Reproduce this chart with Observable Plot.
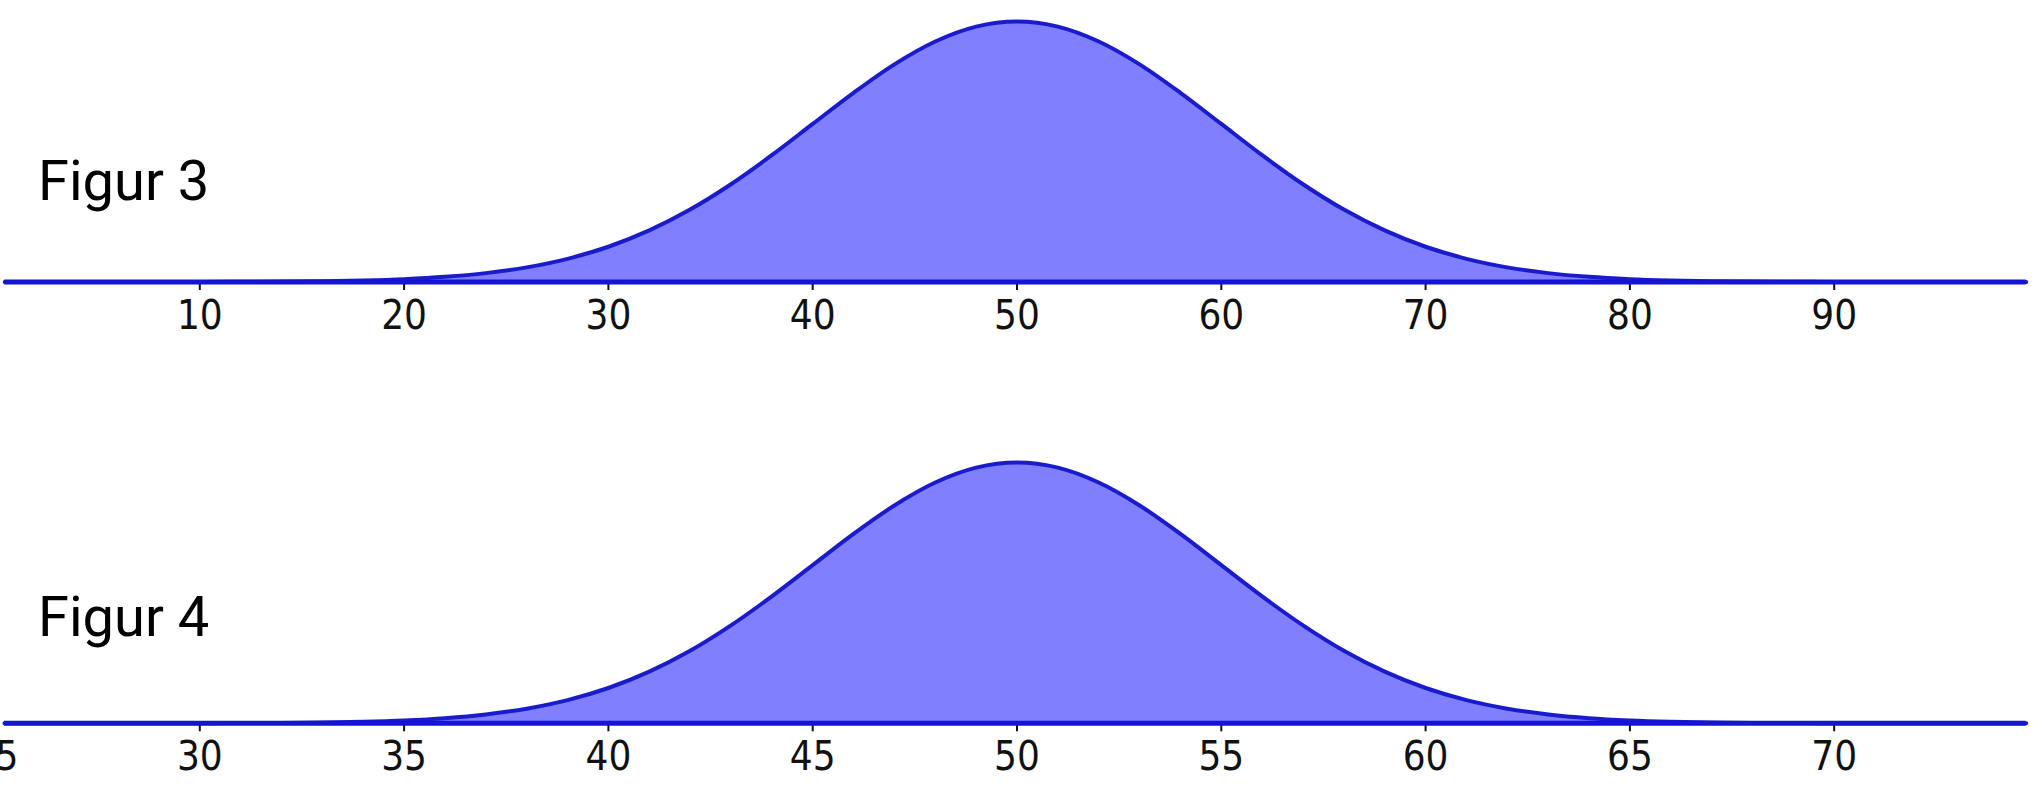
<!DOCTYPE html>
<html>
<head>
<meta charset="utf-8">
<script src="https://cdn.jsdelivr.net/npm/d3@7"></script>
<script src="https://cdn.jsdelivr.net/npm/@observablehq/plot@0.6"></script>
<style>
  html, body { margin: 0; padding: 0; background: #fff; overflow: hidden; }
  #chart svg { display: block; }
</style>
</head>
<body>
<div id="chart"></div>
<script>
// Figure labels
const figureLabels = ["Figur 3", "Figur 4"];

// Figure 3 (top): x positions and density values
const xTop = [0.45, 2, 4, 6, 8, 10, 12, 14, 16, 18, 20, 22, 24, 26, 28, 30, 32, 34, 36, 38, 40, 42, 44, 46, 48,
  50, 52, 54, 56, 58, 60, 62, 64, 66, 68, 70, 72, 74, 76, 78, 80, 82, 84, 86, 88, 90, 92, 94, 96, 98, 99.4];
const yTop = [0, 0, 0, 0, 0.00001, 0.00001, 0.00003, 0.00006, 0.00012, 0.00024, 0.00044, 0.00079, 0.00136,
  0.00224, 0.00355, 0.0054, 0.0079, 0.01109, 0.01497, 0.01942, 0.0242, 0.02897, 0.03333, 0.03683, 0.03911,
  0.03989,
  0.03911, 0.03683, 0.03333, 0.02897, 0.0242, 0.01942, 0.01497, 0.01109, 0.0079, 0.0054, 0.00355, 0.00224,
  0.00136, 0.00079, 0.00044, 0.00024, 0.00012, 0.00006, 0.00003, 0.00001, 0.00001, 0, 0, 0, 0];
const ticksTop = [10, 20, 30, 40, 50, 60, 70, 80, 90];

// Figure 4 (bottom)
const xBottom = [25.22, 26, 27, 28, 29, 30, 31, 32, 33, 34, 35, 36, 37, 38, 39, 40, 41, 42, 43, 44, 45, 46, 47, 48, 49,
  50, 51, 52, 53, 54, 55, 56, 57, 58, 59, 60, 61, 62, 63, 64, 65, 66, 67, 68, 69, 70, 71, 72, 73, 74, 74.7];
const yBottom = [0, 0, 0, 0, 0.00001, 0.00003, 0.00006, 0.00012, 0.00025, 0.00048, 0.00089, 0.00158, 0.00272,
  0.00448, 0.00709, 0.0108, 0.01579, 0.02218, 0.02995, 0.03884, 0.04839, 0.05794, 0.06665, 0.07366, 0.07821,
  0.07979,
  0.07821, 0.07366, 0.06665, 0.05794, 0.04839, 0.03884, 0.02995, 0.02218, 0.01579, 0.0108, 0.00709, 0.00448,
  0.00272, 0.00158, 0.00089, 0.00048, 0.00025, 0.00012, 0.00006, 0.00003, 0.00001, 0, 0, 0, 0];
const ticksBottom = [25, 30, 35, 40, 45, 50, 55, 60, 65, 70];

const fillColor = "#8080ff";
const curveColor = "#1a1ccc";
const axisColor = "#1414d2";

function makePlot({xs, ys, ticks, domain, label, height, marginTop, marginBottom, labelDy}) {
  const data = xs.map((x, i) => ({x, y: ys[i]}));
  const peak = d3.max(ys);
  return Plot.plot({
    width: 2042,
    height,
    marginLeft: 0,
    marginRight: 0,
    marginTop,
    marginBottom,
    style: {fontFamily: "'DejaVu Sans Condensed', 'DejaVu Sans', sans-serif", fontSize: "40px", color: "#111", background: "#fff"},
    x: {domain, range: [-5, 2038], label: null},
    y: {domain: [0, peak], axis: null},
    marks: [
      Plot.axisX({ticks, label: null, tickSize: 8.5, tickPadding: 10, strokeWidth: 2, stroke: "#111", tickFormat: d => String(d), fontSize: 40}),
      Plot.areaY(data, {x: "x", y: "y", fill: fillColor, curve: "monotone-x"}),
      Plot.lineY(data, {x: "x", y: "y", stroke: curveColor, strokeWidth: 4, curve: "monotone-x"}),
      Plot.ruleY([0], {x1: d3.min(xs), x2: d3.max(xs), stroke: axisColor, strokeWidth: 5}),
      Plot.text([label], {text: d => d, frameAnchor: "bottom-left", textAnchor: "start", lineAnchor: "bottom",
        dx: 37.5, dy: labelDy, fontFamily: "Roboto", fontSize: 56, fill: "#000"})
    ]
  });
}

const chart = document.getElementById("chart");
chart.append(makePlot({xs: xTop, ys: yTop, ticks: ticksTop, domain: [0, 100], label: figureLabels[0],
  height: 395, marginTop: 21, marginBottom: 113.5, labelDy: -82.5}));
chart.append(makePlot({xs: xBottom, ys: yBottom, ticks: ticksBottom, domain: [25, 75], label: figureLabels[1],
  height: 395, marginTop: 67, marginBottom: 67.2, labelDy: -87.8}));
</script>
</body>
</html>
